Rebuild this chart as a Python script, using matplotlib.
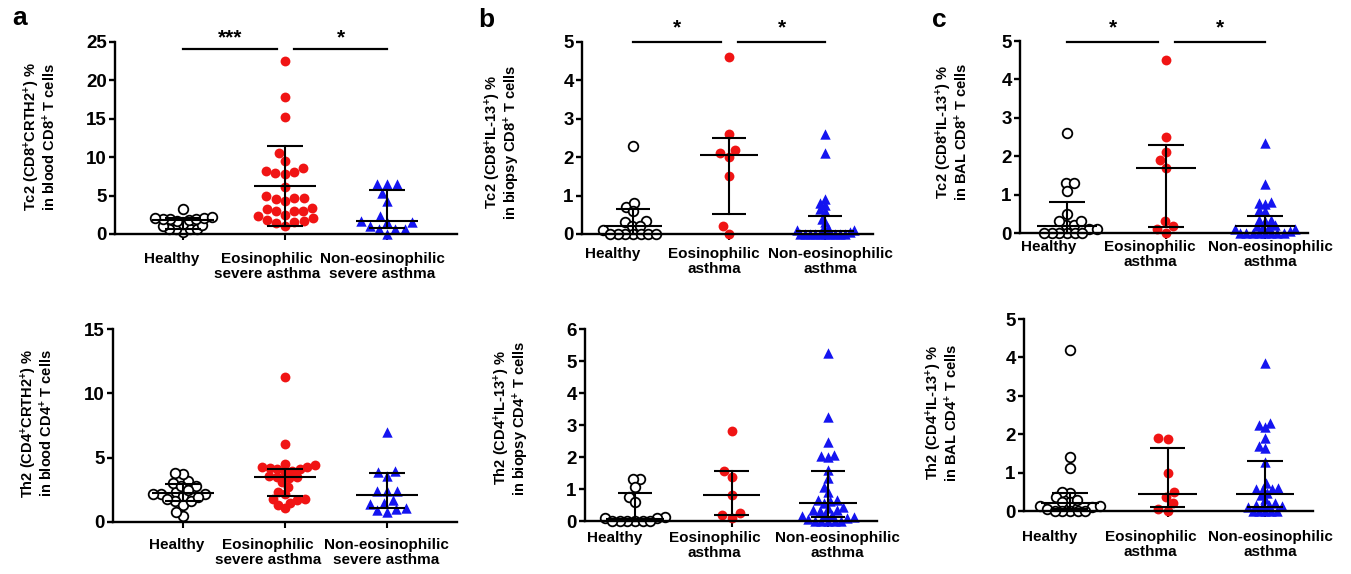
import numpy as np
import matplotlib
matplotlib.use("Agg")
import matplotlib.pyplot as plt
from matplotlib.transforms import offset_copy

# ---------------- data ----------------
cats_a = ["Healthy", "Eosinophilic\nsevere asthma", "Non-eosinophilic\nsevere asthma"]
cats_bc = ["Healthy", "Eosinophilic\nasthma", "Non-eosinophilic\nasthma"]

# a (top): Tc2 in blood
a_top_healthy = [0.3, 0.6, 0.6, 0.6, 0.6, 1.0, 1.2, 1.3, 1.7, 1.8, 1.9, 2.0, 2.0, 2.1, 2.1, 2.2, 3.2]
a_top_eos = [22.5, 17.9, 15.2, 10.5, 9.5, 8.6, 8.2, 8.1, 7.8, 7.9, 6.1, 4.5, 4.9, 4.7, 4.3,
             4.7, 3.0, 2.5, 3.3, 3.0, 3.0, 3.4, 1.7, 1.8, 2.3, 1.5, 2.1, 1.4, 1.1]
a_top_non = [6.5, 6.5, 6.5, 5.4, 4.3, 2.4, 1.7, 1.1, 0.6, 0.65, 0.65, 1.5, 1.5, 0.0]
a_top_median = [1.8, 6.2, 1.7]
a_top_q1 = [0.6, 1.1, 0.8]
a_top_q3 = [2.1, 11.4, 5.7]

# a (bottom): Th2 in blood
a_bot_healthy = [2.2, 3.15, 3.7, 3.8, 2.3, 2.0, 2.2, 2.2, 3.0, 2.8, 2.8, 1.6, 1.35, 1.75,
                 1.6, 1.95, 0.5, 0.8, 2.5]
a_bot_eos = [11.3, 6.1, 4.5, 4.2, 4.3, 4.1, 4.1, 4.3, 4.4, 4.0, 3.5, 3.4, 3.6, 3.1, 3.5,
             2.7, 2.15, 2.3, 1.5, 1.75, 1.7, 1.75, 1.35, 1.05, 3.9]
a_bot_non = [7.0, 4.0, 3.9, 3.6, 2.4, 2.4, 2.4, 1.7, 1.4, 1.05, 1.5, 0.8, 1.0, 0.9]
a_bot_median = [2.25, 3.5, 2.1]
a_bot_q1 = [1.6, 2.0, 1.1]
a_bot_q3 = [2.95, 4.1, 3.8]

# b (top): Tc2 in biopsy
b_top_healthy = [2.3, 0.7, 0.8, 0.6, 0.3, 0.2, 0.33, 0.2, 0.1, 0, 0, 0, 0, 0, 0, 0]
b_top_eos = [4.6, 2.6, 2.0, 2.1, 2.2, 1.5, 0.0, 0.2]
b_top_non = [2.6, 2.1, 0.9, 0.8, 0.75, 0.65, 0.6, 0.4, 0.3, 0.15, 0.1, 0.1, 0.12, 0.05,
             0, 0, 0, 0, 0, 0, 0, 0, 0, 0]
b_top_median = [0.2, 2.05, 0.08]
b_top_q1 = [0.0, 0.52, 0.0]
b_top_q3 = [0.65, 2.5, 0.48]

# b (bottom): Th2 in biopsy
b_bot_healthy = [1.32, 1.3, 1.07, 0.76, 0.6, 0.14, 0.1, 0.1, 0, 0, 0, 0, 0, 0]
b_bot_eos = [2.8, 1.38, 1.56, 0.8, 0.25, 0.1, 0.2]
b_bot_non = [5.24, 3.24, 2.47, 2.06, 2.04, 2.0, 1.6, 1.34, 1.06, 0.9, 0.66, 0.66, 0.62,
             0.56, 0.45, 0.4, 0.34, 0.34, 0.3, 0.2, 0.19, 0.15, 0.13, 0.1, 0.05,
             0, 0, 0, 0, 0]
b_bot_median = [0.05, 0.8, 0.55]
b_bot_q1 = [0.0, 0.2, 0.12]
b_bot_q3 = [0.88, 1.56, 1.55]

# c (top): Tc2 in BAL
c_top_healthy = [2.6, 1.3, 1.3, 1.1, 0.5, 0.2, 0.2, 0.1, 0.3, 0.3, 0.1, 0, 0, 0, 0, 0, 0]
c_top_eos = [4.5, 2.5, 1.9, 2.1, 1.7, 0.3, 0.17, 0.1, 0.0]
c_top_non = [2.35, 1.27, 0.8, 0.78, 0.75, 0.6, 0.58, 0.35, 0.35, 0.3, 0.2, 0.17, 0.15,
             0.15, 0.1, 0.1, 0.05, 0, 0, 0, 0, 0, 0, 0, 0]
c_top_median = [0.19, 1.7, 0.18]
c_top_q1 = [0.0, 0.15, 0.0]
c_top_q3 = [0.8, 2.3, 0.44]

# c (bottom): Th2 in BAL
c_bot_healthy = [4.2, 1.41, 1.11, 0.48, 0.5, 0.37, 0.24, 0.24, 0.29, 0.11, 0.13, 0.13,
                 0.05, 0, 0, 0, 0, 0]
c_bot_eos = [1.88, 1.91, 1.0, 0.5, 0.2, 0.37, 0.0, 0.04]
c_bot_non = [3.86, 2.3, 2.25, 2.2, 1.9, 1.7, 1.65, 1.28, 0.72, 0.6, 0.58, 0.58, 0.56,
             0.46, 0.42, 0.3, 0.2, 0.15, 0.15, 0.15, 0.12, 0.1, 0, 0, 0, 0, 0]
c_bot_median = [0.22, 0.45, 0.45]
c_bot_q1 = [0.05, 0.1, 0.1]
c_bot_q3 = [0.48, 1.65, 1.3]

# significance annotations (top row only)
sig_a = ["***", "*"]
sig_b = ["*", "*"]
sig_c = ["*", "*"]

# ---------------- style ----------------
W, H = 1351, 574
plt.rcParams.update({
    "font.family": ["Liberation Sans", "DejaVu Sans"],
    "font.weight": "bold",
    "mathtext.fontset": "custom",
    "mathtext.rm": "Liberation Sans:bold",
    "mathtext.it": "Liberation Sans:bold",
    "mathtext.bf": "Liberation Sans:bold",
    "mathtext.default": "rm",
})

fig = plt.figure(figsize=(W / 100, H / 100), dpi=100)
fig.patch.set_facecolor("white")

RED = "#f01414"
BLUE = "#1414f0"
D_PX = 9.6      # marker spacing in pixels
MAXW_PX = 31.0  # max half-width of a cloud of points in pixels


def _beeswarm(y, d):
    order = np.argsort(y, kind="stable")
    px, py = [], []
    xs = np.zeros(len(y))
    for i in order:
        yi = y[i]
        cands = [0.0]
        for qx, qy in zip(px, py):
            dy = abs(qy - yi)
            if dy < d:
                dx = np.sqrt(d * d - dy * dy)
                cands += [qx - dx, qx + dx]
        cands = sorted(cands, key=lambda c: (abs(c), c))
        for c in cands:
            ok = True
            for qx, qy in zip(px, py):
                if (qx - c) ** 2 + (qy - yi) ** 2 < (d - 1e-6) ** 2:
                    ok = False
                    break
            if ok:
                break
        px.append(c)
        py.append(yi)
        xs[i] = c
    return xs


def swarm_offsets(vals, ppu_y, ppu_x):
    """Beeswarm layout computed from the values; tightened if too wide."""
    y = np.asarray(vals, dtype=float) * ppu_y
    d = D_PX
    xs = _beeswarm(y, d)
    while np.max(np.abs(xs)) > MAXW_PX and d > 0.45 * D_PX:
        d *= 0.93
        xs = _beeswarm(y, d)
    return xs / ppu_x


def panel(box, groups, med, q1, q3, ymax, ystep, ylabel, cats, lab_dx, lab_dy,
          ylab_xy, sig=None, sig_y=None, star_y=None):
    l, r, t, b, x0, sp = box
    ax = fig.add_axes([l / W, 1 - b / H, (r - l) / W, (b - t) / H])
    xlo = -(x0 - l) / sp
    xhi = xlo + (r - l) / sp
    ax.set_xlim(xlo, xhi)
    ax.set_ylim(0, ymax)
    ppu_y = (b - t) / ymax
    styles = [
        dict(marker="o", s=48, facecolors="white", edgecolors="black", linewidths=1.3),
        dict(marker="o", s=50, color=RED, linewidths=0),
        dict(marker="^", s=56, color=BLUE, linewidths=0),
    ]
    for i, vals in enumerate(groups):
        offs = swarm_offsets(vals, ppu_y, sp)
        ax.scatter(i + offs, vals, clip_on=False, zorder=3, **styles[i])
        ax.plot([i - 0.30, i + 0.30], [med[i]] * 2, color="black", lw=1.5, zorder=4,
                solid_capstyle="butt", clip_on=False)
        ax.plot([i - 0.18, i + 0.18], [q1[i]] * 2, color="black", lw=1.5, zorder=4,
                solid_capstyle="butt", clip_on=False)
        ax.plot([i - 0.18, i + 0.18], [q3[i]] * 2, color="black", lw=1.5, zorder=4,
                solid_capstyle="butt", clip_on=False)
        ax.plot([i, i], [q1[i], q3[i]], color="black", lw=1.5, zorder=4, clip_on=False)

    for s in ["top", "right"]:
        ax.spines[s].set_visible(False)
    for s in ["left", "bottom"]:
        ax.spines[s].set_linewidth(1.7)
        ax.spines[s].set_zorder(5)
    ticks = np.arange(0, ymax + 0.001, ystep)
    ax.set_yticks(ticks)
    ax.set_yticklabels([f"{v:g}" for v in ticks])
    ax.tick_params(axis="y", length=4, width=1.7, pad=2, labelsize=13.5)
    ax.set_xticks([0, 1, 2])
    ax.set_xticklabels([])
    ax.tick_params(axis="x", length=4, width=1.5)
    for i, c in enumerate(cats):
        tr = offset_copy(ax.get_xaxis_transform(), fig=fig, x=lab_dx[i],
                         y=-lab_dy, units="dots")
        ax.text(i, 0, c, transform=tr, ha="center", va="top", fontsize=11,
                fontweight="bold", linespacing=1.08)
    fig.text(ylab_xy[0] / W, 1 - ylab_xy[1] / H, ylabel, rotation=90, ha="center",
             va="center", fontsize=10.5, fontweight="bold", linespacing=0.92)
    if sig is not None:
        for (xa, xb), lab, xs in zip([(0.0, 0.92), (1.09, 2.0)], sig, [0.46, 1.55]):
            ax.plot([xa, xb], [sig_y, sig_y], color="black", lw=1.6, clip_on=False)
            ax.text(xs, star_y, lab, ha="center", va="center", fontsize=15,
                    fontweight="bold", clip_on=False)
    return ax


panel((115, 457, 42, 234, 183, 102), [a_top_healthy, a_top_eos, a_top_non],
      a_top_median, a_top_q1, a_top_q3, 25, 5,
      "Tc2 (CD8$^{+}$CRTH2$^{+}$) %\nin blood CD8$^{+}$ T cells", cats_a,
      [-11, -18, -5], 18, (40, 137), sig_a, 24.1, 25.5)
panel((113, 457, 329, 522, 183, 102), [a_bot_healthy, a_bot_eos, a_bot_non],
      a_bot_median, a_bot_q1, a_bot_q3, 15, 5,
      "Th2 (CD4$^{+}$CRTH2$^{+}$) %\nin blood CD4$^{+}$ T cells", cats_a,
      [-6, -17, -1], 16, (37, 423))
panel((582, 873, 42, 234, 633, 96), [b_top_healthy, b_top_eos, b_top_non],
      b_top_median, b_top_q1, b_top_q3, 5, 1,
      "Tc2 (CD8$^{+}$IL-13$^{+}$) %\nin biopsy CD8$^{+}$ T cells", cats_bc,
      [-20, -15, 5], 13, (502, 142), sig_b, 5.0, 5.36)
panel((585, 877, 329, 521, 635, 96.5), [b_bot_healthy, b_bot_eos, b_bot_non],
      b_bot_median, b_bot_q1, b_bot_q3, 6, 1,
      "Th2 (CD4$^{+}$IL-13$^{+}$) %\nin biopsy CD4$^{+}$ T cells", cats_bc,
      [-20, -17, 9], 10, (511, 418))
panel((1020, 1308, 41, 233, 1067, 99), [c_top_healthy, c_top_eos, c_top_non],
      c_top_median, c_top_q1, c_top_q3, 5, 1,
      "Tc2 (CD8$^{+}$IL-13$^{+}$) %\nin BAL CD8$^{+}$ T cells", cats_bc,
      [-18, -16, 5], 7, (952, 132), sig_c, 4.97, 5.34)
panel((1024, 1313, 319, 511, 1070, 97.5), [c_bot_healthy, c_bot_eos, c_bot_non],
      c_bot_median, c_bot_q1, c_bot_q3, 5, 1,
      "Th2 (CD4$^{+}$IL-13$^{+}$) %\nin BAL CD4$^{+}$ T cells", cats_bc,
      [-20, -17, 5], 19, (942, 413))

for lab, (x, y) in zip(["a", "b", "c"], [(20, 18), (486, 20), (939, 20)]):
    fig.text(x / W, 1 - y / H, lab, ha="center", va="center", fontsize=19,
             fontweight="bold")

fig.savefig("out.png", dpi=100, facecolor="white")
